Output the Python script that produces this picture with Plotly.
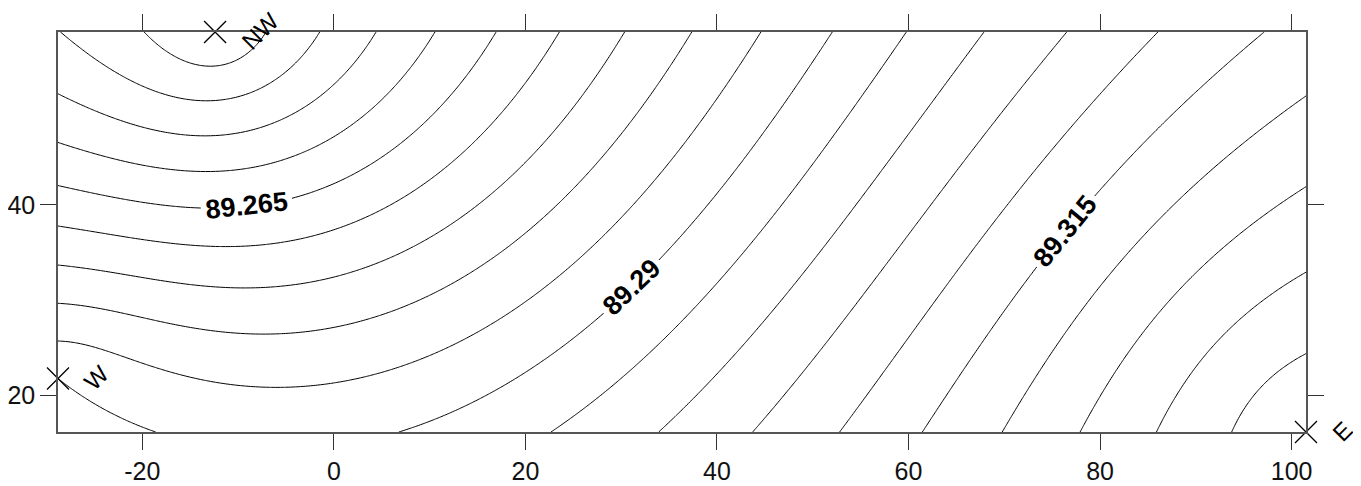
import numpy as np
import plotly.graph_objects as go

# ---- data -------------------------------------------------------------
station_names = ["NW", "W", "E"]
station_x = [-12.4, -28.8, 101.5]
station_y = [58.1, 21.8, 16.2]
station_z = [89.24, 89.29, 89.34]

contour_levels = [round(89.245 + 0.005 * i, 3) for i in range(19)]
labeled_levels = [89.265, 89.29, 89.315]

x_ticks = [-20, 0, 20, 40, 60, 80, 100]
x_tick_labels = ["-20", "0", "20", "40", "60", "80", "100"]
y_ticks = [20, 40]
y_tick_labels = ["20", "40"]

# ---- gridding: ordinary kriging with a linear variogram ----------------
px = np.array(station_x)
py = np.array(station_y)
pz = np.array(station_z)
n = len(px)
D = np.hypot(px[:, None] - px[None, :], py[:, None] - py[None, :])
A = np.zeros((n + 1, n + 1))
A[:n, :n] = D
A[:n, n] = 1
A[n, :n] = 1
rhs = np.concatenate([pz, [0.0]])
sol = np.linalg.solve(A, rhs)
b, a0 = sol[:n], sol[n]

gx = np.linspace(min(station_x), max(station_x), 500)
gy = np.linspace(min(station_y), max(station_y), 180)
GX, GY = np.meshgrid(gx, gy)
Z = a0 + sum(b[i] * np.hypot(GX - px[i], GY - py[i]) for i in range(n))

# ---- figure -------------------------------------------------------------
fig = go.Figure()
for lv in contour_levels:
    lab = any(abs(lv - l) < 1e-9 for l in labeled_levels)
    fig.add_trace(go.Contour(
        x=gx, y=gy, z=Z,
        autocontour=False,
        contours=dict(start=lv, end=lv, size=0.005, coloring="none",
                      showlabels=lab, labelformat=".3~f",
                      labelfont=dict(family="Liberation Sans", size=27,
                                     color="black", weight="bold")),
        line=dict(color="black", width=1),
        showscale=False, hoverinfo="skip",
    ))

fig.add_trace(go.Scatter(
    x=station_x, y=station_y, mode="markers",
    marker=dict(symbol="x-thin-open", size=22, color="black",
                line=dict(width=1.3, color="black")),
    cliponaxis=False, showlegend=False, hoverinfo="skip",
))

for nm, sx, sy in zip(station_names, station_x, station_y):
    fig.add_annotation(x=sx, y=sy, text=nm, showarrow=False, textangle=-45,
                       xanchor="left", yanchor="middle", xshift=18, yshift=1,
                       font=dict(family="Liberation Sans", size=24, color="black"))

axis_common = dict(showgrid=False, zeroline=False, showline=True, automargin=False,
                   linecolor="#555555", linewidth=1.5, mirror="ticks",
                   ticks="outside", ticklen=16, tickwidth=1.2, tickcolor="#333333",
                   tickfont=dict(family="Liberation Sans", size=25, color="#111111"))

fig.update_layout(
    width=1353, height=476,
    margin=dict(l=50, r=55, t=24, b=52, autoexpand=False),
    paper_bgcolor="white", plot_bgcolor="white",
    showlegend=False,
    xaxis=dict(range=[min(station_x), max(station_x)], tickvals=x_ticks,
               ticktext=x_tick_labels, **axis_common),
    yaxis=dict(range=[min(station_y), max(station_y)], tickvals=y_ticks,
               ticktext=y_tick_labels, **axis_common),
)

fig.write_html("out.html")
